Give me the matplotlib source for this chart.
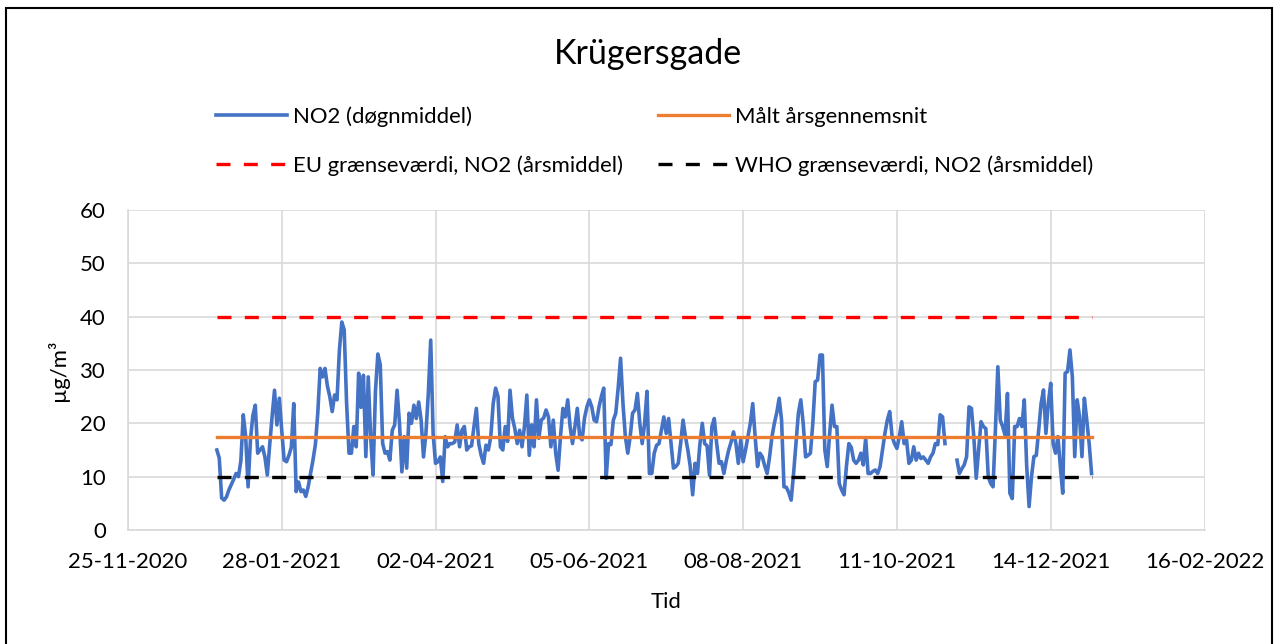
import numpy as np
import matplotlib
matplotlib.use("Agg")
import matplotlib.pyplot as plt
import matplotlib.dates as mdates
from matplotlib.patches import Rectangle

plt.rcParams['font.family'] = ['Lato', 'DejaVu Sans']

title = "Krügersgade"
start_date = "2021-01-01"
no2_daily = [
    15, 13.5, 6, 5.6, 6.2, 7.5, 8.5, 9.5, 10.6, 10,
    13, 21.6, 17.5, 8.1, 17, 21.5, 23.4, 14.4, 15, 15.6,
    13.7, 10.3, 16, 21.3, 26.2, 19.7, 24.7, 18.7, 13.1, 12.8,
    14, 15.5, 23.7, 7.2, 9, 7.2, 7.5, 6.3, 8.1, 10.6,
    13.1, 16, 21.9, 30.3, 28.7, 30.3, 27, 25, 22.2, 25.3,
    24.4, 33.7, 39, 37.5, 23.7, 14.4,
    14.4, 19.4, 15.6, 29.4, 23, 29, 13.75, 28.7, 17.5, 10.3,
    26, 33, 31, 16.2, 14.4, 14.7, 13.1, 18.7, 19.7, 26.2,
    20, 10.9, 17.5, 11.6, 21.9, 20, 23.4, 20.9, 24, 20.6,
    13.7, 18.1, 25.6, 35.6, 18.1, 12.5, 12.8, 13.7, 9.1, 17.5,
    15.6, 16.2, 16.2, 16.5, 19.7, 15.6, 18.7, 19.4, 15, 15.6,
    15.8, 19.4, 22.8, 16.2, 14, 12.5, 15.9, 15, 17.5, 23.7,
    26.6, 25, 15.6,
    15, 19.4, 16.6, 26.2, 21, 19, 16.2, 18.7, 15.6, 19.4,
    25.3, 14, 19.7, 15.6, 24.4, 17.2, 20.6, 21, 22.5, 21.2,
    15.6, 20.6, 14.4, 11.2, 17.5, 22.8, 21.2, 24.4, 19.4, 16.2,
    19.4, 22.8, 17.5, 16.9, 21, 23.1, 24.4, 23.1, 20.6, 20.3,
    23, 25, 26.6, 9.7, 16.2, 16, 20.6, 21.9, 26.6, 32.2,
    23.7, 17.5, 14.4, 17.5, 21.9, 22.5, 25.6, 20, 16.2, 20,
    26, 10.6,
    10.6, 14.4, 15.9, 16.2, 18.7, 21.2, 18.1, 20.9, 16.2, 11.6,
    11.9, 12.5, 16.2, 20.6, 17.5, 15, 11.9, 6.6, 12.5, 10.6,
    16, 20, 16.2, 15.8, 10.3, 19.4, 20.9, 16.2, 12.5, 12.8,
    10.6, 13, 15, 16.5, 18.4, 16.2, 12.5, 16.9, 12.8, 15,
    17.5, 20, 23.7, 17.5, 11.9, 14.4, 13.7, 12, 10.6, 13.7,
    17.5, 20, 22, 24.7, 20.6, 8.1, 8, 7, 5.6, 10.6,
    16.2, 21.9,
    24.4, 20, 13.7, 14, 14.4, 20, 27.8, 28.1, 32.8, 32.8,
    15, 11.9, 18, 23.4, 19.4, 19.4, 8.7, 7.5, 6.6, 12,
    16.2, 15.5, 13.1, 12.5, 13.1, 14.4, 12.2, 17.2, 10.6, 10.6,
    11, 11.25, 10.6, 11.9, 15, 18.1, 20.6, 22.2, 17.5, 16.2,
    15.3, 17.5, 20.3, 16.2, 16.9, 12.5, 13.1, 15.6, 13.1, 14.4,
    13.4, 13.7, 13.1, 12.5, 13.7, 14.4, 16.2, 16, 21.6, 21.2,
    16.2,
    np.nan, np.nan, np.nan, np.nan,
    13.1, 10.6, 11.5, 12.2, 13.75, 23.1, 22.8, 17.5, 9.7, 15,
    20.3, 19.4, 19, 10, 8.75, 8.1, 19, 30.6, 20.6, 19.4,
    17.8, 25.6, 6.9, 5.9, 19.4, 19.4, 20.9, 19.4, 24.4, 12,
    4.4, 10, 13.75, 14, 18.75, 23.75, 26.25, 18.1, 23.75, 27.5,
    16.2, 14.4, 17.5, 11.9, 6.9, 29.4, 29.7, 33.75, 28.75, 13.75,
    24.4, 21.25, 13.75, 24.7, 20.6, 16.2, 10.6,
]
annual_mean = 17.4
eu_limit = 40
who_limit = 10
line_span = ["2021-01-01", "2021-12-31"]
tick_dates = ["2020-11-25", "2021-01-28", "2021-04-02", "2021-06-05",
              "2021-08-08", "2021-10-11", "2021-12-14", "2022-02-16"]
labels = ["NO2 (døgnmiddel)", "Målt årsgennemsnit",
          "EU grænseværdi, NO2 (årsmiddel)", "WHO grænseværdi, NO2 (årsmiddel)"]

dates = np.datetime64(start_date) + np.arange(len(no2_daily))
span = np.array(line_span, dtype="datetime64[D]")
ticks = np.array(tick_dates, dtype="datetime64[D]")

fs = 15.9
fig = plt.figure(figsize=(12.78, 6.44), dpi=100)
ax = fig.add_axes([0.1001, 0.177, 0.8424, 0.497])

h1, = ax.plot(dates, no2_daily, color="#4472C4", lw=2.6, zorder=3,
              solid_joinstyle="round")
h2, = ax.plot(span, [annual_mean] * 2, color="#ED7D31", lw=2.4, zorder=4)
h3, = ax.plot(span, [eu_limit] * 2, color="#FF0000", lw=2.4, dashes=(4.2, 4.0), zorder=4)
h4, = ax.plot(span, [who_limit] * 2, color="#000000", lw=2.4, dashes=(4.2, 4.0), zorder=4)

ax.set_xlim(ticks[0], ticks[-1])
ax.set_ylim(0, 60)
ax.set_xticks(ticks)
ax.xaxis.set_major_formatter(mdates.DateFormatter("%d-%m-%Y"))
ax.set_yticks(range(0, 61, 10))
ax.grid(True, color="#D9D9D9", lw=1.2, zorder=0)
ax.set_axisbelow(True)
for s in ["top", "right"]:
    ax.spines[s].set_visible(False)
for s in ["left", "bottom"]:
    ax.spines[s].set_color("#D9D9D9")
    ax.spines[s].set_linewidth(1.2)
ax.tick_params(length=0, labelsize=fs, colors="#000000")
ax.tick_params(axis="x", pad=16)
ax.tick_params(axis="y", pad=16)
ax.set_xlabel("Tid", fontsize=fs, labelpad=14)
ax.set_ylabel("µg/m³", fontsize=fs, labelpad=8)

fig.text(0.507, 0.916, title, ha="center", va="center", fontsize=24.5)

leg = fig.legend([h1, h3, h2, h4], [labels[0], labels[2], labels[1], labels[3]],
                 ncol=2, loc="center left", bbox_to_anchor=(216 / 1278, 1 - 141 / 644),
                 frameon=False, fontsize=fs, handlelength=3.2, handletextpad=0.27,
                 columnspacing=1.6, labelspacing=1.27, borderpad=0, borderaxespad=0)

fig.patches.append(Rectangle((0.005, -0.05), 0.99, 1.038, transform=fig.transFigure,
                             fill=False, edgecolor="black", lw=1.5, clip_on=False))

fig.savefig("out.png", dpi=100)
